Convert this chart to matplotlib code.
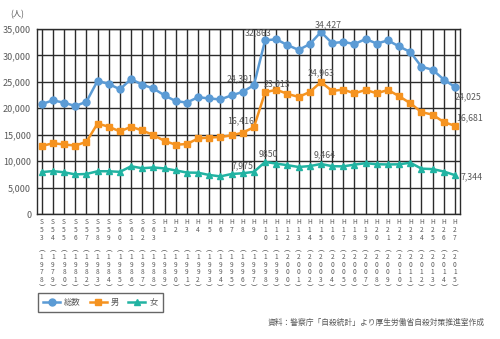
import matplotlib.pyplot as plt
from matplotlib.ticker import FuncFormatter

plt.rcParams['font.family'] = ['Noto Sans CJK JP', 'DejaVu Sans']

# 年（元号表記と西暦）
eras = ['S53', 'S54', 'S55', 'S56', 'S57', 'S58', 'S59', 'S60', 'S61', 'S62', 'S63',
        'H1', 'H2', 'H3', 'H4', 'H5', 'H6', 'H7', 'H8', 'H9', 'H10',
        'H11', 'H12', 'H13', 'H14', 'H15', 'H16', 'H17', 'H18', 'H19', 'H20',
        'H21', 'H22', 'H23', 'H24', 'H25', 'H26', 'H27']
years = list(range(1978, 2016))

# 自殺者数
total = [20788, 21503, 21048, 20434, 21228, 25202, 24596, 23599, 25524, 24460, 23742,
         22436, 21346, 21084, 22104, 21851, 21679, 22445, 23104, 24391, 32863,
         33048, 31957, 31042, 32143, 34427, 32325, 32552, 32155, 33093, 32249,
         32845, 31690, 30651, 27858, 27283, 25427, 24025]
male = [12859, 13386, 13155, 12942, 13654, 17116, 16508, 15624, 16497, 15802, 14934,
        13818, 13102, 13242, 14296, 14468, 14560, 14874, 15393, 16416, 23013,
        23512, 22727, 22144, 23080, 24963, 23272, 23540, 22813, 23478, 22831,
        23472, 22283, 20955, 19273, 18787, 17386, 16681]
female = [7929, 8117, 7893, 7492, 7574, 8086, 8088, 7975, 9027, 8658, 8808,
          8618, 8244, 7842, 7808, 7383, 7119, 7571, 7711, 7975, 9850,
          9536, 9230, 8898, 9063, 9464, 9053, 9012, 9342, 9615, 9418,
          9373, 9407, 9696, 8585, 8496, 8041, 7344]

c_total = '#5b9bd5'
c_male = '#f59320'
c_female = '#21b3a2'
c_text = '#595959'

fig = plt.figure(figsize=(5, 3.39), dpi=100)
ax = fig.add_axes([0.0734, 0.3687, 0.8466, 0.5458])

x = list(range(len(eras)))
ax.plot(x, total, color=c_total, lw=1.8, marker='o', ms=5, label='総数')
ax.plot(x, male, color=c_male, lw=1.8, marker='s', ms=4.6, label='男')
ax.plot(x, female, color=c_female, lw=1.8, marker='^', ms=4.6, label='女')

ax.set_xlim(-0.45, len(eras) - 0.55)
ax.set_ylim(0, 35000)
ax.set_yticks(range(0, 35001, 5000))
ax.yaxis.set_major_formatter(FuncFormatter(lambda v, p: f'{int(v):,}'))
ax.tick_params(axis='y', length=0, labelsize=6.5, labelcolor=c_text, pad=4)
ax.set_xticks(x)
ax.set_xticklabels([])
ax.tick_params(axis='x', length=0)
ax.grid(True, color='#2b2b2b', lw=1.0)
ax.set_axisbelow(True)
for s in ax.spines.values():
    s.set_color('#2b2b2b')
    s.set_linewidth(1.0)

# 縦書きの目盛りラベル
for i, (e, y) in enumerate(zip(eras, years)):
    ax.annotate('\n'.join(e), xy=(i, 0), xycoords=('data', 'axes fraction'),
                xytext=(0, -3), textcoords='offset points', ha='center', va='top',
                fontsize=4.8, linespacing=0.95, color=c_text)
    ax.annotate('\n'.join('︵' + str(y) + '︶'), xy=(i, 0),
                xycoords=('data', 'axes fraction'), xytext=(0, -22.5),
                textcoords='offset points', ha='center', va='top',
                fontsize=4.8, linespacing=0.95, color=c_text)

# 数値ラベル
labels = [
    (19, total, '24,391', (0, 4.5), 'right'),
    (19, male, '16,416', (0, 4.5), 'right'),
    (19, female, '7,975', (0, 4.5), 'right'),
    (20, total, '32,863', (-5, 5.5), 'center'),
    (20, male, '23,013', (-1, 6), 'left'),
    (20, female, '9850', (2, 5.5), 'center'),
    (25, total, '34,427', (5, 5.5), 'center'),
    (25, male, '24,963', (0, 6.5), 'center'),
    (25, female, '9,464', (3, 6.5), 'center'),
    (37, total, '24,025', (0, -7), 'left'),
    (37, male, '16,681', (1, 5.5), 'left'),
    (37, female, '7,344', (4, -1.5), 'left'),
]
for i, series, txt, off, ha in labels:
    ax.annotate(txt, xy=(i, series[i]), xytext=off, textcoords='offset points',
                ha=ha, va='center', fontsize=6.3, color=c_text)

fig.text(0.034, 0.956, '(人)', ha='center', va='center', fontsize=6, color=c_text)

leg = fig.legend(loc='center left', bbox_to_anchor=(0.068, 0.109), ncol=3,
                 fontsize=6, frameon=True, handlelength=2.0, columnspacing=1.1,
                 handletextpad=0.5, borderpad=0.6, fancybox=False)
leg.get_frame().set_edgecolor('#404040')
leg.get_frame().set_linewidth(1.0)
for t in leg.get_texts():
    t.set_color(c_text)

fig.text(0.97, 0.047, '資料：警察庁「自殺統計」より厚生労働省自殺対策推進室作成',
         ha='right', va='center', fontsize=5.6, color=c_text)

fig.savefig('out.png', dpi=100)
